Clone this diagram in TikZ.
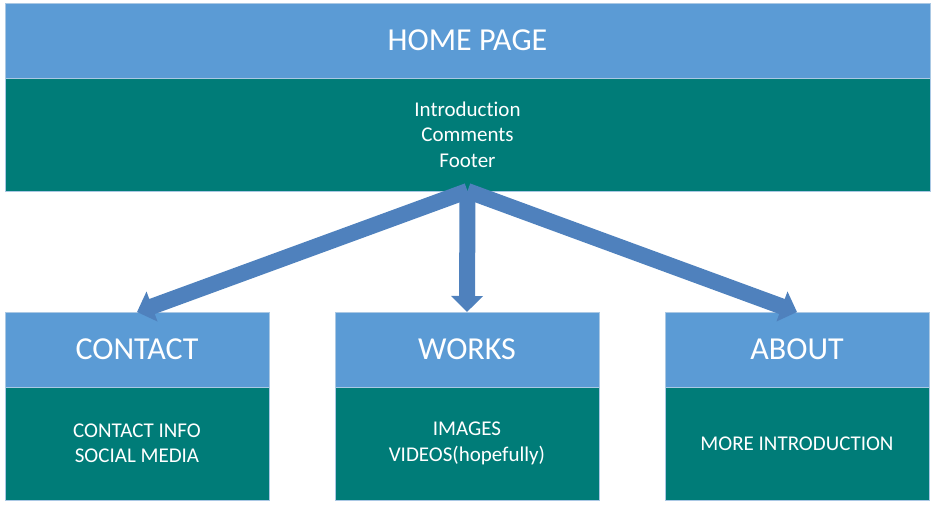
\documentclass[tikz,border=0pt]{standalone}
\usepackage{fontspec}
\setmainfont[Ligatures={NoCommon}]{Carlito}
\usetikzlibrary{positioning,arrows.meta}
\definecolor{headblue}{RGB}{91,155,213}
\definecolor{bodyteal}{RGB}{0,124,120}
\definecolor{arrowblue}{RGB}{79,129,189}
\definecolor{edgeblue}{RGB}{170,200,228}
\begin{document}
\begin{tikzpicture}[x=1pt, y=-1pt,
  head/.style={rectangle, fill=headblue, draw=edgeblue, line width=0.8pt, text=white,
    minimum width=264pt, minimum height=75pt, inner sep=0pt, outer sep=0pt,
    font=\fontsize{32}{38}\selectfont},
  body/.style={rectangle, fill=bodyteal, draw=edgeblue, line width=0.8pt, text=white,
    minimum width=264pt, minimum height=113pt, inner sep=0pt, outer sep=0pt,
    align=center, font=\fontsize{21}{25.5}\selectfont},
  link/.style={arrowblue, line width=16pt, -{Triangle[width=31pt,length=16pt]}}]
\useasboundingbox (0,0) rectangle (935,508);
% home page
\node [head, minimum width=925pt] (home) at (467.5,40.5) {HOME PAGE};
\node [body, minimum width=925pt, below=0pt of home] (homebody) {Introduction\\Comments\\Footer};
% sub pages
\node [head] (contact) at (137,349.5) {CONTACT};
\node [head, right=66pt of contact] (works) {WORKS};
\node [head, right=66pt of works] (about) {ABOUT};
\node [body, below=0pt of contact] (contactbody) {CONTACT INFO\\SOCIAL MEDIA};
\node [body, below=0pt of works] (worksbody) {IMAGES\\VIDEOS(hopefully)};
\node [body, below=0pt of about] (aboutbody) {MORE INTRODUCTION};
% links
\draw [link] (homebody.south) -- (contact.north);
\draw [link] (homebody.south) -- (about.north);
\draw [link] (homebody.south) -- (works.north);
\end{tikzpicture}
\end{document}
